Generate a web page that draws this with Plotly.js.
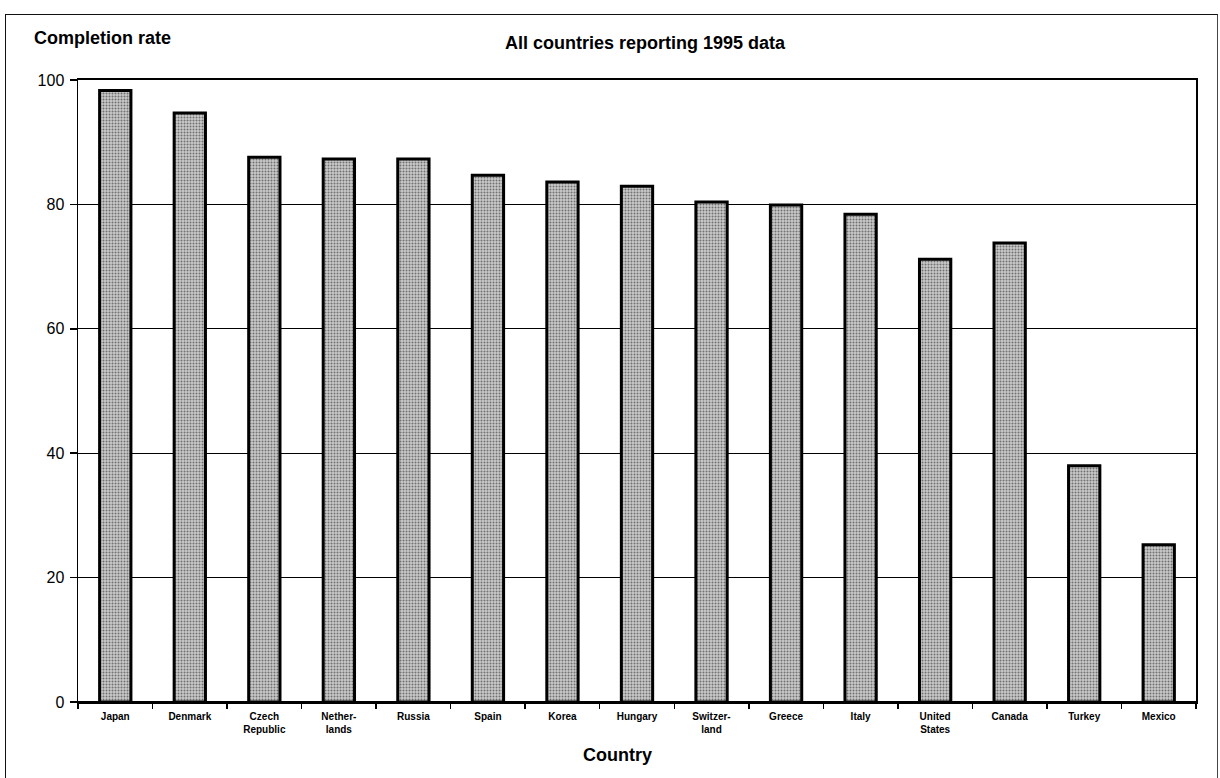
<!DOCTYPE html>
<html>
<head>
<meta charset="utf-8">
<script src="https://cdn.plot.ly/plotly-3.0.1.min.js"></script>
<style>
  html, body { margin: 0; padding: 0; background: #fff; }
  #wrap { position: relative; width: 1220px; height: 778px; }
  #chart { position: absolute; left: 0; top: 0; width: 1220px; height: 778px; }
  #frame { position: absolute; left: 5px; top: 14px; width: 1211px; height: 770px; border-left: 1.5px solid #111; border-top: 1.5px solid #111; border-right: 1px solid #444; pointer-events: none; }
</style>
</head>
<body>
<div id="wrap">
  <div id="chart"></div>
  <div id="frame"></div>
</div>
<script>
// Data
const countries = ["Japan", "Denmark", "Czech<br>Republic", "Nether-<br>lands", "Russia", "Spain", "Korea", "Hungary", "Switzer-<br>land", "Greece", "Italy", "United<br>States", "Canada", "Turkey", "Mexico"];
const completionRate = [98.3, 94.7, 87.6, 87.3, 87.3, 84.7, 83.6, 82.9, 80.4, 79.9, 78.4, 71.2, 73.8, 38.0, 25.3];
const yTicks = [0, 20, 40, 60, 80, 100];

const FONT = "Liberation Sans, Arial, Helvetica, sans-serif";
const W = 1220, H = 778, ML = 78, MR = 24, MT = 80, MB = 76;
const PW = W - ML - MR, PH = H - MT - MB;

const trace = {
  type: "bar",
  x: countries,
  y: completionRate,
  width: 0.42,
  marker: {
    color: "#b8b8b8",
    line: { color: "#000", width: 3 },
    pattern: { shape: ".", fgcolor: "#707070", bgcolor: "#cacaca", size: 3, solidity: 0.35 }
  },
  hoverinfo: "x+y"
};

const layout = {
  width: W,
  height: H,
  margin: { l: ML, r: MR, t: MT, b: MB },
  paper_bgcolor: "#fff",
  plot_bgcolor: "#fff",
  showlegend: false,
  title: {
    text: "<b>All countries reporting 1995 data</b>",
    font: { family: FONT, size: 18, color: "#000" },
    x: 645 / W, xanchor: "center",
    y: 1 - 43 / H, yanchor: "middle",
    xref: "container", yref: "container"
  },
  xaxis: {
    type: "category",
    showline: true, linecolor: "#000", linewidth: 2, mirror: true,
    ticks: "outside", tickson: "boundaries", ticklen: 5, tickcolor: "#000", tickwidth: 1.5,
    ticklabelstandoff: 4,
    showgrid: false,
    tickfont: { family: FONT, size: 10, color: "#000", weight: "bold" }
  },
  yaxis: {
    range: [0, 100],
    tickvals: yTicks,
    ticktext: yTicks.map(String),
    showline: true, linecolor: "#000", linewidth: 1.5, mirror: true,
    ticks: "outside", ticklen: 7, tickcolor: "#000", tickwidth: 1.5,
    ticklabelstandoff: 2,
    showgrid: true, gridcolor: "#000", gridwidth: 1.3,
    zeroline: true, zerolinecolor: "#000", zerolinewidth: 2,
    tickfont: { family: FONT, size: 16, color: "#000" }
  },
  annotations: [
    {
      text: "<b>Completion rate</b>",
      xref: "paper", yref: "paper",
      x: (32 - ML) / PW, xanchor: "left",
      y: (H - MB - 38) / PH, yanchor: "middle",
      showarrow: false,
      font: { family: FONT, size: 18, color: "#000" }
    },
    {
      text: "<b>Country</b>",
      xref: "paper", yref: "paper",
      x: (617 - ML) / PW, xanchor: "center",
      y: (H - MB - 755) / PH, yanchor: "middle",
      showarrow: false,
      font: { family: FONT, size: 18, color: "#000" }
    }
  ]
};

Plotly.newPlot("chart", [trace], layout, { displayModeBar: false, staticPlot: true });
</script>
</body>
</html>
